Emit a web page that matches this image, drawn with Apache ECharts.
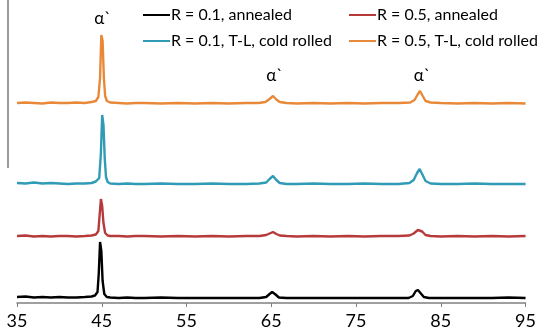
<!DOCTYPE html>
<html><head><meta charset="utf-8">
<script src="https://cdn.jsdelivr.net/npm/echarts@6/dist/echarts.min.js"></script>
<style>html,body{margin:0;padding:0;background:#fff}#c{width:539px;height:334px}</style>
</head><body><div id="c"></div>
<script>
// Stacked XRD patterns (2θ, offset intensity, arbitrary units)
var seriesNames = ['R = 0.1, annealed','R = 0.5, annealed','R = 0.1, T-L, cold rolled','R = 0.5, T-L, cold rolled'];
var seriesColors = ['#000000','#b73a3a','#2f9bb5','#e8893a'];
var xTicks = [35,45,55,65,75,85,95];

var black = [[35,6],[36,6.5],[37,5.5],[38,6],[39,5.5],[40,6],[41,5.5],[42,5.5],[43,6],[43.8,6.5],[44.2,7.5],[44.5,11],[44.65,30],[44.8,61],[44.95,52],[45.1,22],[45.3,9],[45.6,6],[46,5.5],[47,5],[48,5.5],[49,5],[50,5],[52,5.5],[54,5],[56,5],[58,5],[60,5],[62,5],[63.6,5],[64.4,6],[64.8,9],[65.1,11],[65.5,8.5],[65.9,5.5],[66.8,5],[68,5],[70,5],[72,5],[74,5],[76,5],[78,5],[80,5],[81.2,5],[81.7,7],[82.05,12],[82.3,13],[82.6,10],[83,6],[83.6,5],[85,5],[87,5],[89,5],[91,5],[93,5.5],[95,5]];
var red = [[35,67],[36,67.5],[37,66.5],[38,67],[39,66.5],[40,67],[41,67],[42,66.5],[43,67],[43.8,67.5],[44.3,68.5],[44.6,72],[44.75,88],[44.9,104],[45.05,97],[45.2,80],[45.4,70],[45.7,67.5],[46,67],[47,67],[48,66.5],[49,67],[50,67],[52,66.5],[54,67],[56,66.5],[58,67],[60,66.5],[62,67],[63.6,67],[64.4,68],[64.8,69.5],[65.2,71],[65.6,69],[66,67.5],[66.8,67],[68,66.5],[70,67],[72,66.5],[74,67],[76,66.5],[78,67],[80,67],[81.3,67.5],[81.8,69.5],[82.3,73],[82.5,74],[82.8,71.5],[83.2,68],[83.8,67],[85,66.5],[87,67],[89,66.5],[91,67],[93,66.5],[95,67]];
var blue = [[35,120],[36,119.5],[37,120.5],[38,119.5],[39,120],[40,119.5],[41,119],[42,119.5],[43,119.5],[43.8,120],[44.3,121.5],[44.7,125],[44.9,150],[45.05,188],[45.2,178],[45.35,145],[45.5,126],[45.7,121],[46,119.5],[47,119],[48,119.5],[49,119],[50,119],[52,119.5],[54,119],[56,119],[58,119.5],[60,119],[62,119],[63.6,119.5],[64.4,120.5],[64.8,124],[65.2,127],[65.6,123],[66,120],[66.8,119],[68,119],[70,119.5],[72,119],[74,119],[76,119.5],[78,119],[80,119],[81.3,120],[81.8,123],[82.2,130],[82.5,134],[82.8,129],[83.2,122],[83.8,119.5],[85,119],[87,119],[89,119.5],[91,119],[93,119],[95,119]];
var orange = [[35,200],[36,200.5],[37,200],[38,199.5],[39,200.5],[40,200],[41,200],[42,200.5],[43,200],[43.8,201],[44.3,202],[44.6,206],[44.8,225],[44.95,268],[45.1,262],[45.25,225],[45.4,207],[45.6,202],[46,200.5],[47,200],[48,199.5],[49,200],[50,200],[52,199.5],[54,200],[56,199.5],[58,200],[60,199.5],[62,200],[63.5,200],[64.3,201],[64.8,204],[65.2,207],[65.6,203.5],[66,201],[66.8,200],[68,199.5],[70,200],[72,199.5],[74,200],[76,199.5],[78,200],[80,200],[81.4,200.5],[81.9,203],[82.3,209],[82.55,212],[82.8,208],[83.2,202],[83.8,200.5],[85,200],[87,199.5],[89,200],[91,199.5],[93,200],[95,199.5]];

var alphaText = 'α`';
var alphaX = [45.1, 65.4, 82.8];
var alphaY = [284, 227, 227];

var chart = echarts.init(document.getElementById('c'), null, {renderer:'canvas'});
var font = 'Lato';
var dataSets = [black, red, blue, orange];
var series = dataSets.map(function(d,i){
  return {name:seriesNames[i], type:'line', data:d, showSymbol:false, symbol:'none',
    lineStyle:{color:seriesColors[i], width:2.4}, itemStyle:{color:seriesColors[i]}, animation:false, z:2+i};
});
series[3].markPoint = {symbol:'circle', symbolSize:0, silent:true, animation:false,
  label:{show:true, formatter:alphaText, color:'#000', fontFamily:font, fontSize:17, offset:[0,0]},
  data: alphaX.map(function(x,i){return {coord:[x, alphaY[i]]};})};

chart.setOption({
  backgroundColor:'#fff',
  animation:false,
  grid:{left:17, right:12, top:5, bottom:31},
  xAxis:{type:'value', min:35, max:95, interval:10,
    axisLine:{lineStyle:{color:'#808080', width:1.5}},
    axisTick:{show:true, length:4, lineStyle:{color:'#808080'}},
    splitLine:{show:false},
    axisLabel:{color:'#000', fontFamily:font, fontSize:18, margin:9,
      formatter:function(v){return xTicks.indexOf(v)>=0 ? String(v) : '';}}},
  yAxis:{type:'value', min:0, max:298, show:false, splitLine:{show:false}},
  legend:[
    {data:[seriesNames[0], seriesNames[2]], orient:'vertical', left:143, top:7, padding:0,
     icon:'rect', itemWidth:27, itemHeight:2, itemGap:10,
     textStyle:{fontFamily:font, fontSize:16, lineHeight:16, color:'#000', padding:[0,0,0,-4]}},
    {data:[seriesNames[1], seriesNames[3]], orient:'vertical', left:349, top:7, padding:0,
     icon:'rect', itemWidth:27, itemHeight:2, itemGap:10,
     textStyle:{fontFamily:font, fontSize:16, lineHeight:16, color:'#000', padding:[0,0,0,-4]}}
  ],
  graphic:[{type:'line', shape:{x1:8, y1:0, x2:8, y2:168}, style:{stroke:'#7a7a7a', lineWidth:1.5}}],
  series:series
});
</script></body></html>
